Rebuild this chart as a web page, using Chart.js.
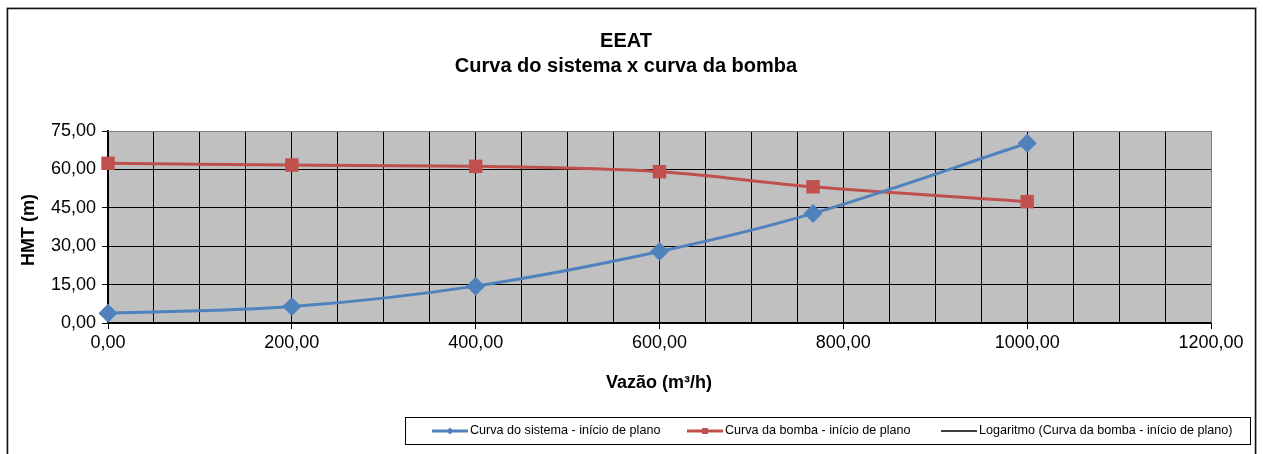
<!DOCTYPE html>
<html>
<head>
<meta charset="utf-8">
<script src="https://cdn.jsdelivr.net/npm/chart.js@4/dist/chart.umd.min.js"></script>
<style>
  html, body { margin: 0; padding: 0; background: #fff; }
  #wrap { width: 1263px; height: 454px; position: relative; }
</style>
</head>
<body>
<div id="wrap"><canvas id="c" width="1263" height="454"></canvas></div>
<script>
// Flow rates (m³/h) of the operating points
const vazao = [0, 200, 400, 600, 767, 1000];
// System curve head (m)
const curvaSistema = [3.8, 6.4, 14.4, 27.9, 42.8, 70.2];
// Pump curve head (m)
const curvaBomba = [62.4, 61.7, 61.2, 59.1, 53.2, 47.4];

const titulo = ['EEAT', 'Curva do sistema x curva da bomba'];
const tituloX = 'Vazão (m³/h)';
const tituloY = 'HMT (m)';
const legendas = [
  'Curva do sistema - início de plano',
  'Curva da bomba - início de plano',
  'Logaritmo (Curva da bomba - início de plano)'
];

const AZUL = '#4F81BD';
const VERMELHO = '#C0504D';
const FONT = '"Liberation Sans", Arial, sans-serif';

const fmt = v => Number(v).toFixed(2).replace('.', ',');

const pontos = ys => vazao.map((x, i) => ({ x, y: ys[i] }));

// Page decorations: frame, titles, axis titles, plot background and legend box
const moldura = {
  id: 'moldura',
  beforeDraw(chart) {
    const { ctx, chartArea: a } = chart;
    ctx.save();
    ctx.fillStyle = '#fff';
    ctx.fillRect(0, 0, chart.width, chart.height);
    ctx.fillStyle = '#C0C0C0';
    ctx.fillRect(a.left, a.top, a.right - a.left, a.bottom - a.top);
    ctx.restore();
  },
  afterDatasetsDraw(chart) {
    const { ctx, chartArea: a } = chart;
    ctx.save();
    // plot area border (top / right)
    ctx.strokeStyle = '#808080';
    ctx.lineWidth = 1;
    ctx.beginPath();
    ctx.moveTo(a.left, a.top + 0.5);
    ctx.lineTo(a.right + 0.5, a.top + 0.5);
    ctx.lineTo(a.right + 0.5, a.bottom);
    ctx.stroke();
    ctx.restore();
  },
  afterDraw(chart) {
    const { ctx } = chart;
    ctx.save();
    // outer frame
    ctx.strokeStyle = '#d0d0d0';
    ctx.lineWidth = 1;
    ctx.strokeRect(6.5, 7.5, 1250, 460);
    ctx.strokeStyle = '#111';
    ctx.lineWidth = 1.5;
    ctx.strokeRect(7.5, 8.5, 1248, 460);

    // titles
    ctx.fillStyle = '#000';
    ctx.textAlign = 'center';
    ctx.textBaseline = 'alphabetic';
    ctx.font = 'bold 20px ' + FONT;
    ctx.fillText(titulo[0], 626, 47);
    ctx.fillText(titulo[1], 626, 72);

    // axis titles
    ctx.font = 'bold 18px ' + FONT;
    ctx.fillText(tituloX, 659, 388);
    ctx.save();
    ctx.translate(34, 230);
    ctx.rotate(-Math.PI / 2);
    ctx.fillText(tituloY, 0, 0);
    ctx.restore();

    // legend box
    ctx.strokeStyle = '#000';
    ctx.lineWidth = 1;
    ctx.strokeRect(405.5, 417.5, 845, 27);

    ctx.font = '12.6px ' + FONT;
    ctx.textAlign = 'left';
    ctx.textBaseline = 'middle';
    const yMid = 431;
    const inicio = [432, 687, 941];
    chart.data.datasets.forEach((ds, i) => {
      const x = inicio[i];
      ctx.strokeStyle = ds.borderColor;
      ctx.lineWidth = ds.borderWidth;
      ctx.beginPath();
      ctx.moveTo(x, yMid);
      ctx.lineTo(x + 36, yMid);
      ctx.stroke();
      if (ds.pointStyle === 'rectRot') {
        ctx.fillStyle = ds.borderColor;
        ctx.beginPath();
        ctx.moveTo(x + 18, yMid - 3.5);
        ctx.lineTo(x + 21.5, yMid);
        ctx.lineTo(x + 18, yMid + 3.5);
        ctx.lineTo(x + 14.5, yMid);
        ctx.closePath();
        ctx.fill();
      } else if (ds.pointStyle === 'rect') {
        ctx.fillStyle = ds.borderColor;
        ctx.fillRect(x + 15, yMid - 3, 6, 6);
      }
      ctx.fillStyle = '#000';
      ctx.fillText(ds.label, x + 38, yMid);
    });
    ctx.restore();
  }
};

new Chart(document.getElementById('c'), {
  type: 'line',
  data: {
    datasets: [
      {
        label: legendas[0],
        data: pontos(curvaSistema),
        borderColor: AZUL,
        backgroundColor: AZUL,
        borderWidth: 3,
        pointStyle: 'rectRot',
        pointRadius: 9.5,
        pointBorderWidth: 0,
        tension: 0.35,
        clip: false
      },
      {
        label: legendas[1],
        data: pontos(curvaBomba),
        borderColor: VERMELHO,
        backgroundColor: VERMELHO,
        borderWidth: 3,
        pointStyle: 'rect',
        pointRadius: 9.5,
        pointBorderWidth: 0,
        tension: 0.35,
        clip: false
      },
      {
        label: legendas[2],
        data: [],
        borderColor: '#000',
        backgroundColor: '#000',
        borderWidth: 1.5,
        pointRadius: 0
      }
    ]
  },
  options: {
    responsive: false,
    animation: false,
    events: [],
    layout: { padding: { left: 0, top: 131, right: 52, bottom: 0 } },
    plugins: {
      legend: { display: false },
      title: { display: false },
      tooltip: { enabled: false }
    },
    scales: {
      x: {
        type: 'linear',
        min: 0,
        max: 1200,
        afterFit(s) { s.height = 131; },
        afterBuildTicks(s) {
          const t = [];
          for (let v = 0; v <= 1200; v += 50) t.push({ value: v });
          s.ticks = t;
        },
        ticks: {
          autoSkip: false,
          maxRotation: 0,
          padding: 3,
          color: '#000',
          font: { family: FONT, size: 18 },
          callback: v => (v % 200 === 0 ? fmt(v) : '')
        },
        grid: {
          color: '#000',
          lineWidth: 1,
          tickLength: 6,
          tickColor: c => (c.tick && c.tick.value % 200 === 0 ? '#000' : 'rgba(0,0,0,0)')
        },
        border: { color: '#000', width: 2 }
      },
      y: {
        min: 0,
        max: 75,
        afterFit(s) { s.width = 108; },
        ticks: {
          stepSize: 15,
          padding: 6,
          color: '#000',
          font: { family: FONT, size: 18 },
          callback: v => fmt(v)
        },
        grid: { color: '#000', lineWidth: 1, tickLength: 6 },
        border: { color: '#000', width: 2 }
      }
    }
  },
  plugins: [moldura]
});
</script>
</body>
</html>
